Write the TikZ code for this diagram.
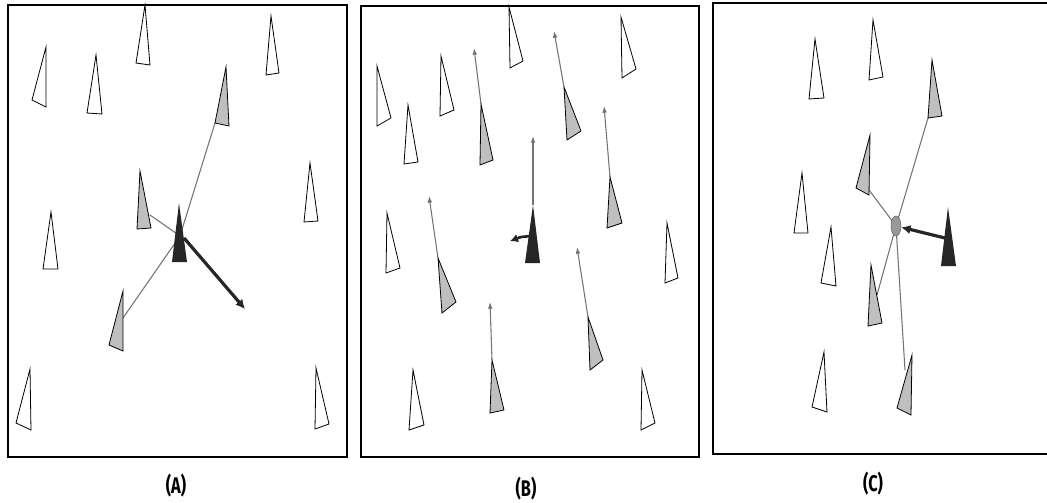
\documentclass[tikz,border=0pt]{standalone}
\usepackage{fontspec}
\setsansfont{Fira Sans}
\usetikzlibrary{arrows.meta,shapes.geometric}

\begin{document}
\begin{tikzpicture}[x=0.75pt,y=-0.75pt,
  frame/.style={line width=1.8pt},
  wcone/.style={draw=black,line width=0.6pt,fill=white},
  gcone/.style={draw=black,line width=0.6pt,fill=black!25},
  bcone/.style={fill=black!85},
  link/.style={draw=black!55,line width=0.8pt},
  drift/.style={draw=black!55,line width=0.8pt,-{Latex[length=5pt,width=3.5pt]}},
  push/.style={draw=black!85,line width=2.4pt,-{Latex[length=7pt,width=7pt]}},
  hub/.style={ellipse,draw=black!60,fill=black!40,inner sep=0pt,minimum width=7.5pt,minimum height=15pt},
  tag/.style={font=\sffamily\fontsize{17}{19}\selectfont}]
\useasboundingbox (0,0) rectangle (1047,503);

% (A)
\draw[frame] (8,5) rectangle (347,457);
\coordinate (hubA) at (180,236);
\coordinate (a5) at (215,123);
\coordinate (a7) at (150,215);
\coordinate (a10) at (123,318);
\draw[link] (hubA) -- (a5);
\draw[link] (hubA) -- (a7);
\draw[link] (hubA) -- (a10);
\draw[wcone] (145,5) -- (136,63) -- (150,65) -- cycle;
\draw[wcone] (271,16) -- (266,75) -- (279,73) -- cycle;
\draw[wcone] (46,47) -- (32,100) -- (46,107) -- cycle;
\draw[wcone] (96,55) -- (87,113) -- (102,114) -- cycle;
\draw[gcone] (226,67) -- (215,123) -- (229,126) -- cycle;
\draw[wcone] (310,163) -- (304,222) -- (318,221) -- cycle;
\draw[gcone] (140,171) -- (137,229) -- (151,228) -- cycle;
\draw[wcone] (51,212) -- (43,269) -- (58,269) -- cycle;
\draw[gcone] (123,291) -- (109,345) -- (123,351) -- cycle;
\draw[wcone] (30,369) -- (16,423) -- (31,430) -- cycle;
\draw[wcone] (316,368) -- (315,429) -- (329,424) -- cycle;
\fill[bcone] (179,203) -- (172,262) -- (187,262) -- cycle;
\coordinate (goA) at (245,309);
\draw[push] (184,238) -- (goA);
\node[tag] (labA) at (176,486) {\scalebox{0.72}[1]{\textbf{(A)}}};

% (B)
\draw[frame] (361,6) rectangle (699,457);
\coordinate (b6) at (481,104);   \coordinate (b6h) at (474,48);
\coordinate (b7) at (564,87);    \coordinate (b7h) at (554,31);
\coordinate (b8) at (610,177);   \coordinate (b8h) at (604,106);
\coordinate (b9) at (533,205);   \coordinate (b9h) at (533,136);
\coordinate (b11) at (438,258);  \coordinate (b11h) at (429,196);
\coordinate (b13) at (588,317);  \coordinate (b13h) at (577,247);
\coordinate (b14) at (492,360);  \coordinate (b14h) at (490,302);
\draw[wcone] (509,7) -- (510,68) -- (523,61) -- cycle;
\draw[wcone] (621,17) -- (622,78) -- (636,69) -- cycle;
\draw[wcone] (377,66) -- (377,126) -- (391,118) -- cycle;
\draw[wcone] (441,56) -- (440,116) -- (454,110) -- cycle;
\draw[wcone] (408,105) -- (404,164) -- (418,162) -- cycle;
\draw[gcone] (b6) -- (480,165) -- (493,160) -- cycle;
\draw[gcone] (b7) -- (567,140) -- (581,131) -- cycle;
\draw[gcone] (b8) -- (607,228) -- (622,223) -- cycle;
\draw[wcone] (387,213) -- (386,273) -- (400,268) -- cycle;
\draw[gcone] (b11) -- (442,313) -- (456,302) -- cycle;
\draw[wcone] (667,223) -- (665,283) -- (678,278) -- cycle;
\draw[gcone] (b13) -- (590,370) -- (603,360) -- cycle;
\draw[gcone] (b14) -- (490,413) -- (504,410) -- cycle;
\draw[wcone] (413,370) -- (409,430) -- (424,425) -- cycle;
\draw[wcone] (642,370) -- (641,430) -- (655,423) -- cycle;
\draw[drift] (b6) -- (b6h);
\draw[drift] (b7) -- (b7h);
\draw[drift] (b8) -- (b8h);
\draw[drift] (b9) -- (b9h);
\draw[drift] (b11) -- (b11h);
\draw[drift] (b13) -- (b13h);
\draw[drift] (b14) -- (b14h);
\fill[bcone] (b9) -- (525,263) -- (540,263) -- cycle;
\coordinate (goB) at (510,241);
\draw[push,line width=2pt,-{Latex[length=6pt,width=6.5pt]}] (531,236) -- (521,237) -- (goB);
\node[tag] (labB) at (526,489) {\scalebox{0.72}[1]{\textbf{(B)}}};

% (C)
\draw[frame] (1050,3) -- (713,3) -- (713,454) -- (1050,454);
\coordinate (hubC) at (896,226);
\coordinate (c3) at (928,118);
\coordinate (c4) at (869,190);
\coordinate (c9) at (877,295);
\coordinate (c11) at (905,370);
\draw[link] (hubC) -- (c3);
\draw[link] (hubC) -- (c4);
\draw[link] (hubC) -- (c9);
\draw[link] (hubC) -- (c11);
\draw[wcone] (815,39) -- (809,99) -- (824,98) -- cycle;
\draw[wcone] (873,20) -- (869,80) -- (883,77) -- cycle;
\draw[gcone] (932,60) -- (928,118) -- (942,116) -- cycle;
\draw[gcone] (870,135) -- (856,188) -- (869,195) -- cycle;
\draw[wcone] (802,173) -- (794,233) -- (808,233) -- cycle;
\draw[wcone] (831,227) -- (821,283) -- (836,286) -- cycle;
\draw[gcone] (871,265) -- (868,326) -- (882,323) -- cycle;
\draw[wcone] (824,352) -- (812,407) -- (827,412) -- cycle;
\draw[gcone] (912,355) -- (897,408) -- (911,415) -- cycle;
\node[hub] (dot) at (hubC) {};
\fill[bcone] (948,207) -- (941,266) -- (956,266) -- cycle;
\coordinate (fromC) at (945,238);
\draw[push] (fromC) -- (dot);
\node[tag] (labC) at (873,484) {\scalebox{0.72}[1]{\textbf{(C)}}};
\end{tikzpicture}
\end{document}
